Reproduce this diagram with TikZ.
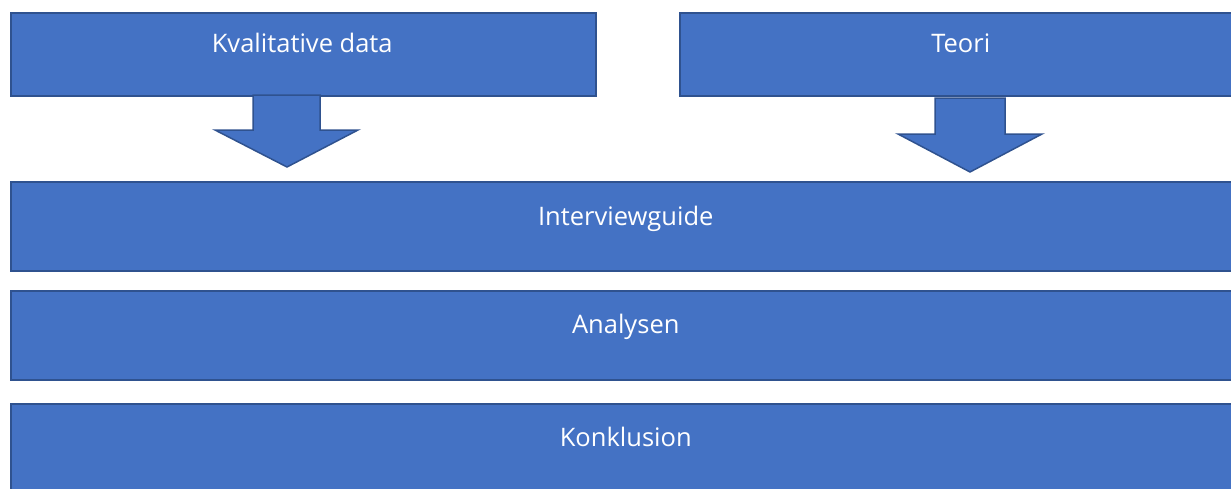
\documentclass[tikz,border=0pt]{standalone}
\usepackage{fontspec}
\setmainfont{Open Sans}
\usepackage{xcolor}
\usetikzlibrary{positioning}

\definecolor{boxfill}{HTML}{4472C4}
\definecolor{boxline}{HTML}{2F528F}

\begin{document}
\begin{tikzpicture}[
  x=1pt, y=-1pt,
  box/.style={draw=boxline, fill=boxfill, line width=1.5pt, anchor=north west, inner sep=0pt},
  topB/.style={box, minimum width=585pt, minimum height=83pt},
  wideB/.style={box, minimum width=1235pt, minimum height=89pt},
  lbl/.style={anchor=base, text=white, font=\fontsize{25.5}{30}\selectfont},
  blockarr/.style={draw=boxline, fill=boxfill, line width=1.5pt, line join=miter}
]
\useasboundingbox (0,0) rectangle (1231,488);

% input boxes
\node[topB, label={[lbl, yshift=-40pt, xshift=-1pt]north:Kvalitative data}] (kd) at (10,12) {};
\node[topB, minimum width=560pt, label={[lbl, yshift=-40pt, xshift=1pt]north:Teori}] (teori) at (679,12) {};

% stages
\node[wideB, label={[lbl, yshift=-44pt, xshift=-2.5pt]north:Interviewguide}] (guide) at (10,181) {};
\node[wideB, label={[lbl, yshift=-43pt, xshift=-2.5pt]north:Analysen}] (ana) at (10,290) {};
\node[wideB, label={[lbl, yshift=-43pt, xshift=-2.5pt]north:Konklusion}] (konk) at (10,403) {};

% block arrows
\coordinate (a1) at (287,95);
\coordinate (a2) at (970,98);
\draw[blockarr] (a1) ++(-34,0) -- ++(0,35) -- ++(-38,0) -- ++(72,37) -- ++(71,-37)
  -- ++(-38,0) -- ++(0,-35) -- cycle;
\draw[blockarr] (a2) ++(-35,0) -- ++(0,36) -- ++(-37,0) -- ++(72,38) -- ++(72,-38)
  -- ++(-37,0) -- ++(0,-36) -- cycle;
\end{tikzpicture}
\end{document}
